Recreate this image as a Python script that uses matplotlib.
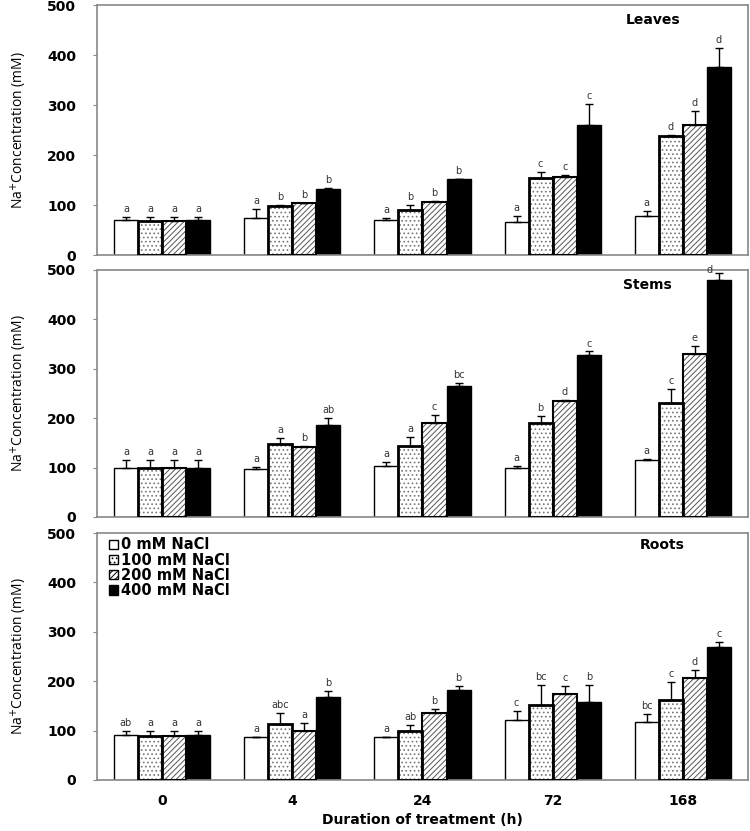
import numpy as np
import matplotlib.pyplot as plt
from matplotlib.patches import Patch

plt.rcParams['hatch.linewidth'] = 0.7

durations = ['0', '4', '24', '72', '168']
treatments = ['0 mM NaCl', '100 mM NaCl', '200 mM NaCl', '400 mM NaCl']

# rows = treatment (0, 100, 200, 400 mM), columns = duration
leaves_mean = [[70, 75, 70, 67, 78],
               [69, 98, 90, 154, 238],
               [69, 104, 106, 156, 260],
               [70, 133, 152, 260, 376]]
leaves_err = [[7, 18, 5, 12, 10],
              [7, 2, 10, 13, 3],
              [7, 1, 2, 5, 28],
              [7, 1, 1, 43, 38]]
leaves_let = [['a', 'a', 'a', 'a', 'a'],
              ['a', 'b', 'b', 'c', 'd'],
              ['a', 'b', 'b', 'c', 'd'],
              ['a', 'b', 'b', 'c', 'd']]

stems_mean = [[99, 98, 103, 100, 115],
              [100, 148, 144, 190, 230],
              [100, 142, 191, 235, 330],
              [99, 187, 266, 328, 480]]
stems_err = [[17, 3, 9, 3, 3],
             [15, 12, 18, 14, 30],
             [15, 2, 16, 2, 16],
             [16, 13, 6, 7, 13]]
stems_let = [['a', 'a', 'a', 'a', 'a'],
             ['a', 'a', 'a', 'b', 'c'],
             ['a', 'b', 'c', 'd', 'e'],
             ['a', 'ab', 'bc', 'c', 'd']]

roots_mean = [[92, 87, 88, 121, 118],
              [89, 113, 100, 151, 161],
              [89, 99, 136, 175, 207],
              [91, 168, 183, 158, 270]]
roots_err = [[7, 0, 0, 18, 15],
             [10, 23, 12, 41, 37],
             [10, 17, 8, 16, 16],
             [8, 12, 7, 34, 10]]
roots_let = [['ab', 'a', 'a', 'c', 'bc'],
             ['a', 'abc', 'ab', 'bc', 'c'],
             ['a', 'a', 'b', 'c', 'd'],
             ['a', 'b', 'b', 'b', 'c']]

panels = [('Leaves', leaves_mean, leaves_err, leaves_let, (0.854, 0.94)),
          ('Stems', stems_mean, stems_err, stems_let, (0.845, 0.939)),
          ('Roots', roots_mean, roots_err, roots_let, (0.868, 0.951))]

styles = [dict(face='white', hatch=None, hc='black', lw=1.0),
          dict(face='white', hatch='....', hc='#777777', lw=2.0),
          dict(face='white', hatch='//////', hc='#555555', lw=1.5),
          dict(face='black', hatch=None, hc='black', lw=1.0)]

fig = plt.figure(figsize=(7.5, 8.31), dpi=100)
rects = [[0.1293, 0.6931, 0.868, 0.3008],
         [0.1293, 0.3779, 0.868, 0.2972],
         [0.1293, 0.0614, 0.868, 0.2972]]

x = np.arange(len(durations))
w = 0.185
offs = (np.arange(4) - 1.5) * w

for i, (name, mean, err, lets, tpos) in enumerate(panels):
    ax = fig.add_axes(rects[i])
    for j in range(4):
        st = styles[j]
        xs = x + offs[j]
        if st['hatch']:
            ax.bar(xs, mean[j], w, color=st['face'], edgecolor=st['hc'],
                   hatch=st['hatch'], linewidth=0, zorder=2)
            ax.bar(xs, mean[j], w, facecolor='none', edgecolor='black',
                   linewidth=st['lw'], zorder=3)
        else:
            ax.bar(xs, mean[j], w, color=st['face'], edgecolor='black',
                   linewidth=st['lw'], zorder=2)
        ax.errorbar(xs, mean[j], yerr=[np.zeros(5), err[j]], fmt='none',
                    ecolor='black', elinewidth=1, capsize=3, capthick=1, zorder=4)
        for k in range(5):
            top = mean[j][k] + err[j][k]
            if top > 470:
                ax.text(xs[k] - 0.075, top - 4, lets[j][k], ha='center', va='bottom',
                        fontsize=7, color='#333333')
            else:
                ax.text(xs[k], top + 6, lets[j][k], ha='center', va='bottom',
                        fontsize=7, color='#333333')

    ax.set_xlim(-0.5, 4.5)
    ax.set_ylim(0, 500)
    ax.set_yticks([0, 100, 200, 300, 400, 500])
    for sp in ax.spines.values():
        sp.set_color('#888888')
        sp.set_linewidth(1.2)
    ax.tick_params(axis='y', length=3, color='#888888', labelsize=10, pad=12)
    for t in ax.get_yticklabels():
        t.set_fontweight('bold')
    ax.set_ylabel('Na$^{+}$Concentration (mM)', fontsize=10, family='Open Sans')
    ax.yaxis.set_label_coords(-0.105, 0.5)
    ax.text(tpos[0], tpos[1], name, transform=ax.transAxes, ha='center', va='center',
            fontsize=10, fontweight='bold')
    if i < 2:
        ax.set_xticks([])
    else:
        ax.set_xticks(x)
        ax.set_xticklabels(durations, fontsize=10, fontweight='bold')
        ax.tick_params(axis='x', length=0, pad=10)
        ax.set_xlabel('Duration of treatment (h)', fontsize=10, fontweight='bold',
                      labelpad=4)
        handles = [Patch(facecolor=st['face'], edgecolor='black', hatch=st['hatch'],
                         linewidth=1) for st in styles]
        ax.legend(handles, treatments, loc='upper left', frameon=False,
                  prop=dict(size=10.5, weight='bold'), handlelength=0.6,
                  handleheight=0.6, handletextpad=0.2, labelspacing=0.02,
                  borderaxespad=0.2, borderpad=0.1,
                  bbox_to_anchor=(0.012, 1.0))

fig.savefig('out.png', dpi=100)
